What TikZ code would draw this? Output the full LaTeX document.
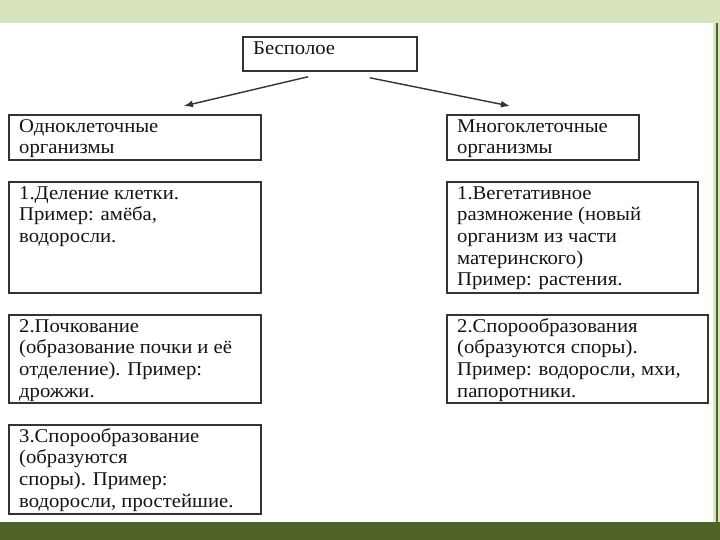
\documentclass[tikz,border=0pt]{standalone}
\usepackage{fontspec}
\setmainfont[FakeStretch=1.06]{Liberation Serif}
\usetikzlibrary{arrows.meta,calc,positioning}
\definecolor{BandGreen}{HTML}{D7E4BD}
\definecolor{BarOlive}{HTML}{4F6228}
\definecolor{FrameGray}{HTML}{333333}
\definecolor{Ink}{HTML}{141414}

\begin{document}
\begin{tikzpicture}[x=1pt, y=1pt, >={Latex[length=9pt,width=7pt]},
  cell/.style={draw=FrameGray, line width=1.8pt, inner sep=0pt, anchor=north west},
  cellnote/.style={anchor=north west, inner sep=0pt, text=Ink, align=left,
    font=\fontsize{19.5}{21.7}\selectfont}]
  % Slide frame.
  \useasboundingbox (0,0) rectangle (720,540);
  \fill[white] (0,0) rectangle (720,540);
  \fill[BandGreen] (0,517) rectangle (720,540);
  \fill[BandGreen] (713,18) rectangle (720,517);
  \draw[BarOlive, line width=1.5pt] (717,18) -- (717,517);
  \fill[BarOlive] (0,0) rectangle (720,18);

  % The root and the two groups.
  \node[cell, minimum width=174, minimum height=34] (root) at (242,504) {};
  \node[cell, minimum width=252, minimum height=45] (uni) at (8,426) {};
  \node[cell, minimum width=192, minimum height=45] (multi) at (446,426) {};
  \node[cellnote] (rootText) at ($(root.north west)+(11,-2.8)$) {\strut Бесполое};
  \node[cellnote] (uniText) at ($(uni.north west)+(11,-2.8)$)
    {\strut Одноклеточные\\организмы};
  \node[cellnote] (multiText) at ($(multi.north west)+(11,-2.8)$)
    {\strut Многоклеточные\\организмы};

  \coordinate (rootL) at ($(root.south)+(-22,-5)$);
  \coordinate (rootR) at ($(root.south)+(40,-6)$);
  \coordinate (uniTip) at ($(uni.north)+(49,8)$);
  \coordinate (multiTip) at ($(multi.north)+(-33,8)$);
  \draw[->, FrameGray, line width=1.4pt] (rootL) -- (uniTip);
  \draw[->, FrameGray, line width=1.4pt] (rootR) -- (multiTip);

  % Ways for one-celled organisms.
  \node[cell, minimum width=252, minimum height=111] (fission) at (8,359) {};
  \node[cell, minimum width=252, minimum height=88] (budding) at (8,226) {};
  \node[cell, minimum width=252, minimum height=89] (sporesL) at (8,116) {};
  \node[cellnote] (fissionText) at ($(fission.north west)+(11,-2.8)$)
    {\strut 1.Деление клетки.\\Пример: амёба,\\водоросли.};
  \node[cellnote] (buddingText) at ($(budding.north west)+(11,-2.8)$)
    {\strut 2.Почкование\\(образование почки и её\\отделение). Пример:\\дрожжи.};
  \node[cellnote] (sporesLText) at ($(sporesL.north west)+(11,-2.8)$)
    {\strut 3.Спорообразование\\(образуются\\споры). Пример:\\водоросли, простейшие.};

  % Ways for many-celled organisms.
  \node[cell, minimum width=251, minimum height=111] (vegetative) at (446,359) {};
  \node[cell, minimum width=261, minimum height=88] (sporesR) at (446,226) {};
  \node[cellnote] (vegetativeText) at ($(vegetative.north west)+(11,-2.8)$)
    {\strut 1.Вегетативное\\размножение (новый\\организм из части\\материнского)\\Пример: растения.};
  \node[cellnote] (sporesRText) at ($(sporesR.north west)+(11,-2.8)$)
    {\strut 2.Спорообразования\\(образуются споры).\\Пример: водоросли, мхи,\\папоротники.};
\end{tikzpicture}
\end{document}
